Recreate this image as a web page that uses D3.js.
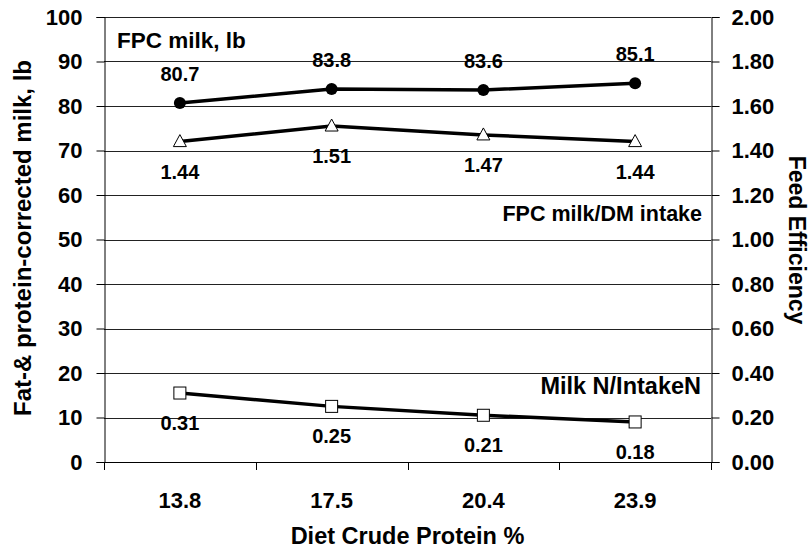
<!DOCTYPE html>
<html>
<head>
<meta charset="utf-8">
<script src="https://cdn.jsdelivr.net/npm/d3@7"></script>
<style>
  body { margin: 0; background: #fff; }
  text { font-family: "Liberation Sans", Arial, sans-serif; font-weight: bold; fill: #000; }
</style>
</head>
<body>
<svg id="chart" width="812" height="550"></svg>
<script>
// data
const proteinLevels = ["13.8", "17.5", "20.4", "23.9"];
const fpcMilk = [80.7, 83.8, 83.6, 85.1];          // left axis, lb
const feedEfficiency = [1.44, 1.51, 1.47, 1.44];   // right axis
const milkNRatio = [0.31, 0.25, 0.21, 0.18];       // right axis
const leftTicks = [0, 10, 20, 30, 40, 50, 60, 70, 80, 90, 100];
const rightTicks = [0, 0.2, 0.4, 0.6, 0.8, 1.0, 1.2, 1.4, 1.6, 1.8, 2.0];

const svgWidth = 812, svgHeight = 550;
const margin = { top: 17, right: 101, bottom: 88, left: 104 };
const width = svgWidth - margin.left - margin.right;
const height = svgHeight - margin.top - margin.bottom;

const svg = d3.select("#chart");
const g = svg.append("g")
  .attr("transform", "translate(" + margin.left + "," + margin.top + ")");

const x = d3.scaleBand()
  .domain(proteinLevels)
  .range([0, width]);

const yLeft = d3.scaleLinear()
  .domain([0, 100])
  .range([height, 0]);

const yRight = d3.scaleLinear()
  .domain([0, 2])
  .range([height, 0]);

const cx = d => x(d) + x.bandwidth() / 2;

// gridlines
g.append("g")
  .selectAll("line")
  .data(leftTicks.filter(t => t > 0))
  .join("line")
  .attr("x1", 0)
  .attr("x2", width)
  .attr("y1", d => Math.round(yLeft(d)) + 0.5)
  .attr("y2", d => Math.round(yLeft(d)) + 0.5)
  .attr("stroke", "#222")
  .attr("stroke-width", 1);

// left axis
const leftAxis = g.append("g")
  .attr("transform", "translate(0.5,0)")
  .call(d3.axisLeft(yLeft).tickValues(leftTicks).tickSize(8).tickPadding(14));
leftAxis.selectAll("text").style("font-size", "22px");

// right axis
const rightAxis = g.append("g")
  .attr("transform", "translate(" + (width + 0.5) + ",0)")
  .call(d3.axisRight(yRight).tickValues(rightTicks).tickSize(8).tickPadding(12)
    .tickFormat(d3.format(".2f")));
rightAxis.selectAll("text").style("font-size", "22px");

// bottom axis
const bottomAxis = g.append("g")
  .attr("transform", "translate(0," + (height + 0.5) + ")")
  .call(d3.axisBottom(x).tickSize(0).tickPadding(30));
bottomAxis.selectAll("text").style("font-size", "22px");
bottomAxis.select(".domain").remove();

g.append("g")
  .selectAll("line")
  .data(proteinLevels.concat(["end"]))
  .join("line")
  .attr("x1", (d, i) => Math.round(i * x.bandwidth()) + 0.5)
  .attr("x2", (d, i) => Math.round(i * x.bandwidth()) + 0.5)
  .attr("y1", height)
  .attr("y2", height + 8)
  .attr("stroke", "#000");

g.append("line")
  .attr("x1", 0).attr("x2", width)
  .attr("y1", height + 0.5).attr("y2", height + 0.5)
  .attr("stroke", "#000");

svg.selectAll(".domain").attr("stroke", "#000");
svg.selectAll(".tick line").attr("stroke", "#000");

// series
const series = [
  { values: fpcMilk, y: yLeft, symbol: "circle", fmt: d3.format(".1f"), labelDy: -29 },
  { values: feedEfficiency, y: yRight, symbol: "triangle", fmt: d3.format(".2f"), labelDy: 30 },
  { values: milkNRatio, y: yRight, symbol: "square", fmt: d3.format(".2f"), labelDy: 30 }
];

series.forEach(s => {
  const pts = s.values.map((v, i) => ({ cat: proteinLevels[i], v: v }));
  const line = d3.line()
    .x(d => cx(d.cat))
    .y(d => s.y(d.v));

  g.append("path")
    .datum(pts)
    .attr("fill", "none")
    .attr("stroke", "#000")
    .attr("stroke-width", 3.5)
    .attr("stroke-linejoin", "round")
    .attr("d", line);

  const marks = g.append("g");
  if (s.symbol === "circle") {
    marks.selectAll("circle")
      .data(pts)
      .join("circle")
      .attr("cx", d => cx(d.cat))
      .attr("cy", d => s.y(d.v))
      .attr("r", 6)
      .attr("fill", "#000");
  } else if (s.symbol === "triangle") {
    marks.selectAll("path")
      .data(pts)
      .join("path")
      .attr("transform", d => "translate(" + cx(d.cat) + "," + s.y(d.v) + ")")
      .attr("d", "M0,-7L6.5,5L-6.5,5Z")
      .attr("fill", "#fff")
      .attr("stroke", "#000")
      .attr("stroke-width", 1);
  } else {
    marks.selectAll("rect")
      .data(pts)
      .join("rect")
      .attr("x", d => cx(d.cat) - 6)
      .attr("y", d => s.y(d.v) - 6)
      .attr("width", 12)
      .attr("height", 12)
      .attr("fill", "#fff")
      .attr("stroke", "#000")
      .attr("stroke-width", 1);
  }

  g.append("g")
    .selectAll("text")
    .data(pts)
    .join("text")
    .attr("x", d => cx(d.cat))
    .attr("y", d => s.y(d.v) + s.labelDy)
    .attr("dy", "0.35em")
    .attr("text-anchor", "middle")
    .style("font-size", "20px")
    .text(d => s.fmt(d.v));
});

// series names
g.append("text")
  .attr("x", 13).attr("y", 23)
  .attr("dy", "0.35em")
  .style("font-size", "22.5px")
  .text("FPC milk, lb");

g.append("text")
  .attr("x", width - 9).attr("y", 196)
  .attr("dy", "0.35em")
  .attr("text-anchor", "end")
  .style("font-size", "21.5px")
  .text("FPC milk/DM intake");

g.append("text")
  .attr("x", width - 10).attr("y", 369)
  .attr("dy", "0.35em")
  .attr("text-anchor", "end")
  .style("font-size", "23.5px")
  .text("Milk N/IntakeN");

// axis titles
svg.append("text")
  .attr("transform", "translate(23," + 238 + ") rotate(-90)")
  .attr("dy", "0.35em")
  .attr("text-anchor", "middle")
  .style("font-size", "24px")
  .text("Fat-& protein-corrected milk, lb");

svg.append("text")
  .attr("transform", "translate(797," + 240 + ") rotate(90)")
  .attr("dy", "0.35em")
  .attr("text-anchor", "middle")
  .style("font-size", "23px")
  .text("Feed Efficiency");

svg.append("text")
  .attr("x", margin.left + width / 2)
  .attr("y", 536)
  .attr("dy", "0.35em")
  .attr("text-anchor", "middle")
  .style("font-size", "23.5px")
  .text("Diet Crude Protein %");
</script>
</body>
</html>
